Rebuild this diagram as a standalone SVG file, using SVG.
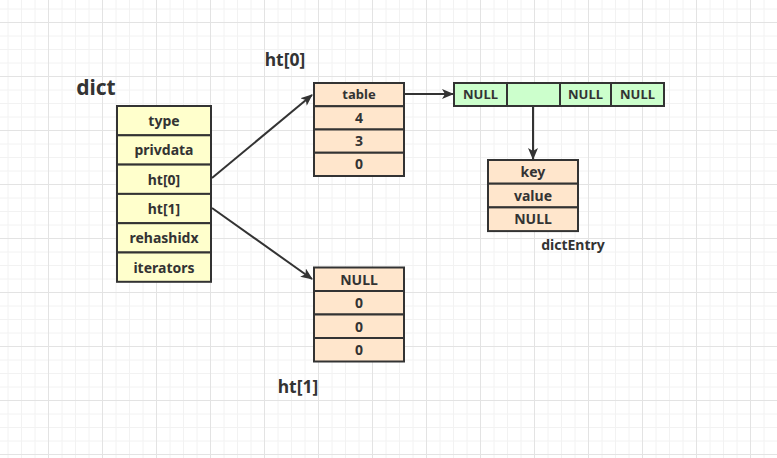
<svg xmlns="http://www.w3.org/2000/svg" width="777" height="458" viewBox="0 0 777 458">
<style>
.cell{stroke:#333;stroke-width:2}
.y{fill:#FFFFCC}.p{fill:#FFE6CC}.g{fill:#CCFFCC}
text{font-family:"Noto Sans","Open Sans","Liberation Sans",sans-serif;font-weight:bold;fill:#333;text-anchor:middle}
.t{font-size:14px}.s{font-size:13px}.l{font-size:17.5px}
.e{stroke:#333;stroke-width:2;fill:none}
</style>
<defs>
<pattern id="grid" patternUnits="userSpaceOnUse" x="48" y="22" width="54" height="54">
<path d="M14 0V54M27.5 0V54M41 0V54M0 14H54M0 27.5H54M0 41H54" stroke="#f2f2f2" stroke-width="1" fill="none"/>
<path d="M0.5 0V54M0 0.5H54" stroke="#e3e3e3" stroke-width="1" fill="none"/>
</pattern>
<marker id="arr" viewBox="0 0 12 10" refX="11" refY="5" markerWidth="12" markerHeight="10" markerUnits="userSpaceOnUse" orient="auto">
<path d="M0 0L12 5L0 10L3 5Z" fill="#333"/>
</marker>
</defs>
<rect width="777" height="458" fill="#fff"/>
<rect width="777" height="458" fill="url(#grid)"/>

<g id="connectors">
<path class="e" d="M212 178L312 95" marker-end="url(#arr)"/>
<path class="e" d="M212 208L312 279" marker-end="url(#arr)"/>
<path class="e" d="M404 94L453 94" marker-end="url(#arr)"/>
<path class="e" d="M533 106L533 159" marker-end="url(#arr)"/>
</g>

<g id="dict">
<text class="l" x="96" y="95" style="font-size:21px">dict</text>
<rect class="cell y" x="117" y="106" width="94" height="29.3"/>
<rect class="cell y" x="117" y="135.3" width="94" height="29.3"/>
<rect class="cell y" x="117" y="164.6" width="94" height="29.3"/>
<rect class="cell y" x="117" y="193.9" width="94" height="29.3"/>
<rect class="cell y" x="117" y="223.2" width="94" height="29.3"/>
<rect class="cell y" x="117" y="252.5" width="94" height="29.3"/>
<text class="t" x="164" y="126">type</text>
<text class="t" x="164" y="155.3">privdata</text>
<text class="t" x="164" y="184.6">ht[0]</text>
<text class="t" x="164" y="213.9">ht[1]</text>
<text class="t" x="164" y="243.2">rehashidx</text>
<text class="t" x="164" y="272.5">iterators</text>
</g>

<g id="ht0">
<text class="l" x="285" y="66">ht[0]</text>
<rect class="cell p" x="314" y="83" width="90" height="23.25"/>
<rect class="cell p" x="314" y="106.25" width="90" height="23.25"/>
<rect class="cell p" x="314" y="129.5" width="90" height="23.25"/>
<rect class="cell p" x="314" y="152.75" width="90" height="23.25"/>
<text class="s" x="359" y="99">table</text>
<text class="t" x="359" y="122.5">4</text>
<text class="t" x="359" y="145.8">3</text>
<text class="t" x="359" y="169">0</text>
</g>

<g id="ht1">
<text class="l" x="298" y="393">ht[1]</text>
<rect class="cell p" x="314" y="267.5" width="90" height="23.5"/>
<rect class="cell p" x="314" y="291" width="90" height="23.5"/>
<rect class="cell p" x="314" y="314.5" width="90" height="23.5"/>
<rect class="cell p" x="314" y="338" width="90" height="23.5"/>
<text class="t" x="359" y="284.5">NULL</text>
<text class="t" x="359" y="308">0</text>
<text class="t" x="359" y="331.5">0</text>
<text class="t" x="359" y="355">0</text>
</g>

<g id="table">
<rect class="cell g" x="454" y="83" width="53" height="23"/>
<rect class="cell g" x="507" y="83" width="53" height="23"/>
<rect class="cell g" x="560" y="83" width="51" height="23"/>
<rect class="cell g" x="611" y="83" width="53" height="23"/>
<text class="s" x="480.5" y="99">NULL</text>
<text class="s" x="585.5" y="99">NULL</text>
<text class="s" x="637.5" y="99">NULL</text>
</g>

<g id="dictEntry">
<rect class="cell p" x="488" y="160" width="90" height="23.7"/>
<rect class="cell p" x="488" y="183.7" width="90" height="23.7"/>
<rect class="cell p" x="488" y="207.4" width="90" height="23.7"/>
<text class="t" x="533" y="177">key</text>
<text class="t" x="533" y="200.5">value</text>
<text class="t" x="533" y="224.3">NULL</text>
<text class="t" x="573" y="250">dictEntry</text>
</g>
</svg>
